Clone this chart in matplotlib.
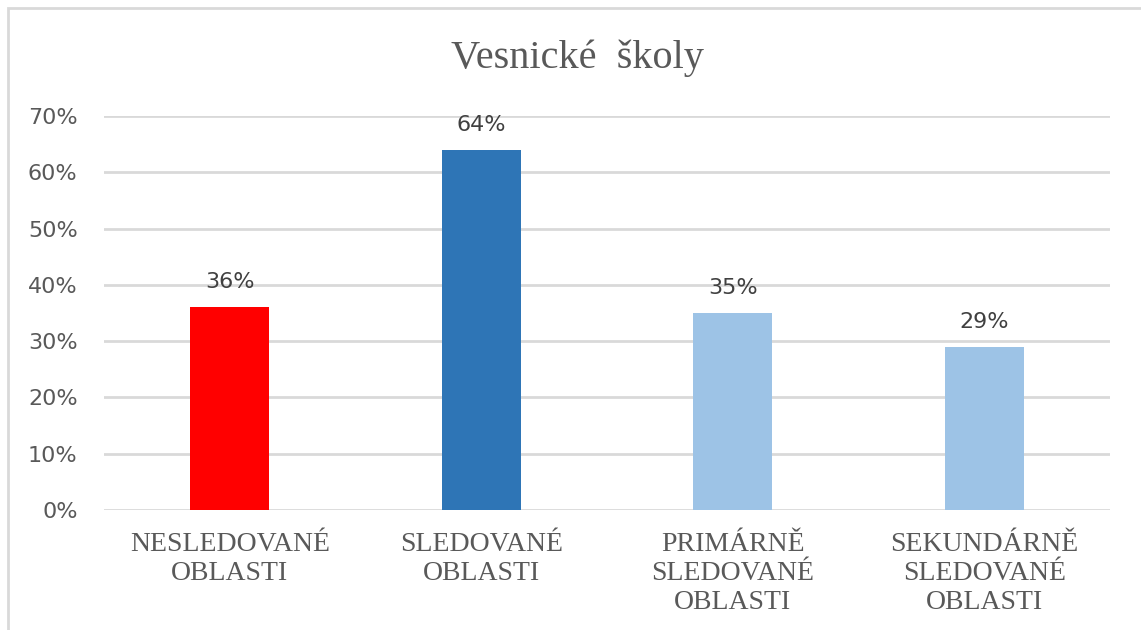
import matplotlib
matplotlib.use("Agg")
import matplotlib.pyplot as plt
from matplotlib.patches import Rectangle

# data
categories = ["NESLEDOVANÉ\nOBLASTI", "SLEDOVANÉ\nOBLASTI",
              "PRIMÁRNĚ\nSLEDOVANÉ\nOBLASTI", "SEKUNDÁRNĚ\nSLEDOVANÉ\nOBLASTI"]
values = [0.36, 0.64, 0.35, 0.29]
colors = ["#FF0000", "#2E75B6", "#9DC3E6", "#9DC3E6"]
yticks = [0, 0.1, 0.2, 0.3, 0.4, 0.5, 0.6, 0.7]

fig = plt.figure(figsize=(11.41, 6.30), dpi=100)
ax = fig.add_axes([104/1141, 1-510/630, (1110-104)/1141, (510-116)/630])

x = range(len(values))
ax.bar(x, values, width=0.315, color=colors, zorder=3)
for xi, v in zip(x, values):
    ax.text(xi, v + 0.027, f"{v:.0%}", ha="center", va="bottom",
            fontsize=16, color="#404040", family="DejaVu Sans")

ax.set_xlim(-0.5, 3.5)
ax.set_ylim(0, 0.7)
ax.set_yticks(yticks)
ax.set_yticklabels([f"{t:.0%}" for t in yticks], fontsize=16,
                   color="#595959", family="DejaVu Sans")
ax.grid(axis="y", color="#D9D9D9", linewidth=2, zorder=0)
ax.set_xticks(list(x))
ax.set_xticklabels(categories, fontsize=20, color="#595959",
                   family="Liberation Serif", linespacing=1.2)
ax.tick_params(axis="both", length=0)
ax.tick_params(axis="y", pad=19)
ax.tick_params(axis="x", pad=16)
for s in ax.spines.values():
    s.set_visible(False)

fig.text(577/1141, 1-58/630, "Vesnické  školy", ha="center", va="center",
         fontsize=29, color="#595959", family="Liberation Serif")

# chart frame
fig.patches.append(Rectangle((8/1141, -0.05), 1.1, 1-8/630 + 0.05,
                             transform=fig.transFigure, fill=False,
                             edgecolor="#D9D9D9", linewidth=2))

fig.savefig("out.png", dpi=100)
